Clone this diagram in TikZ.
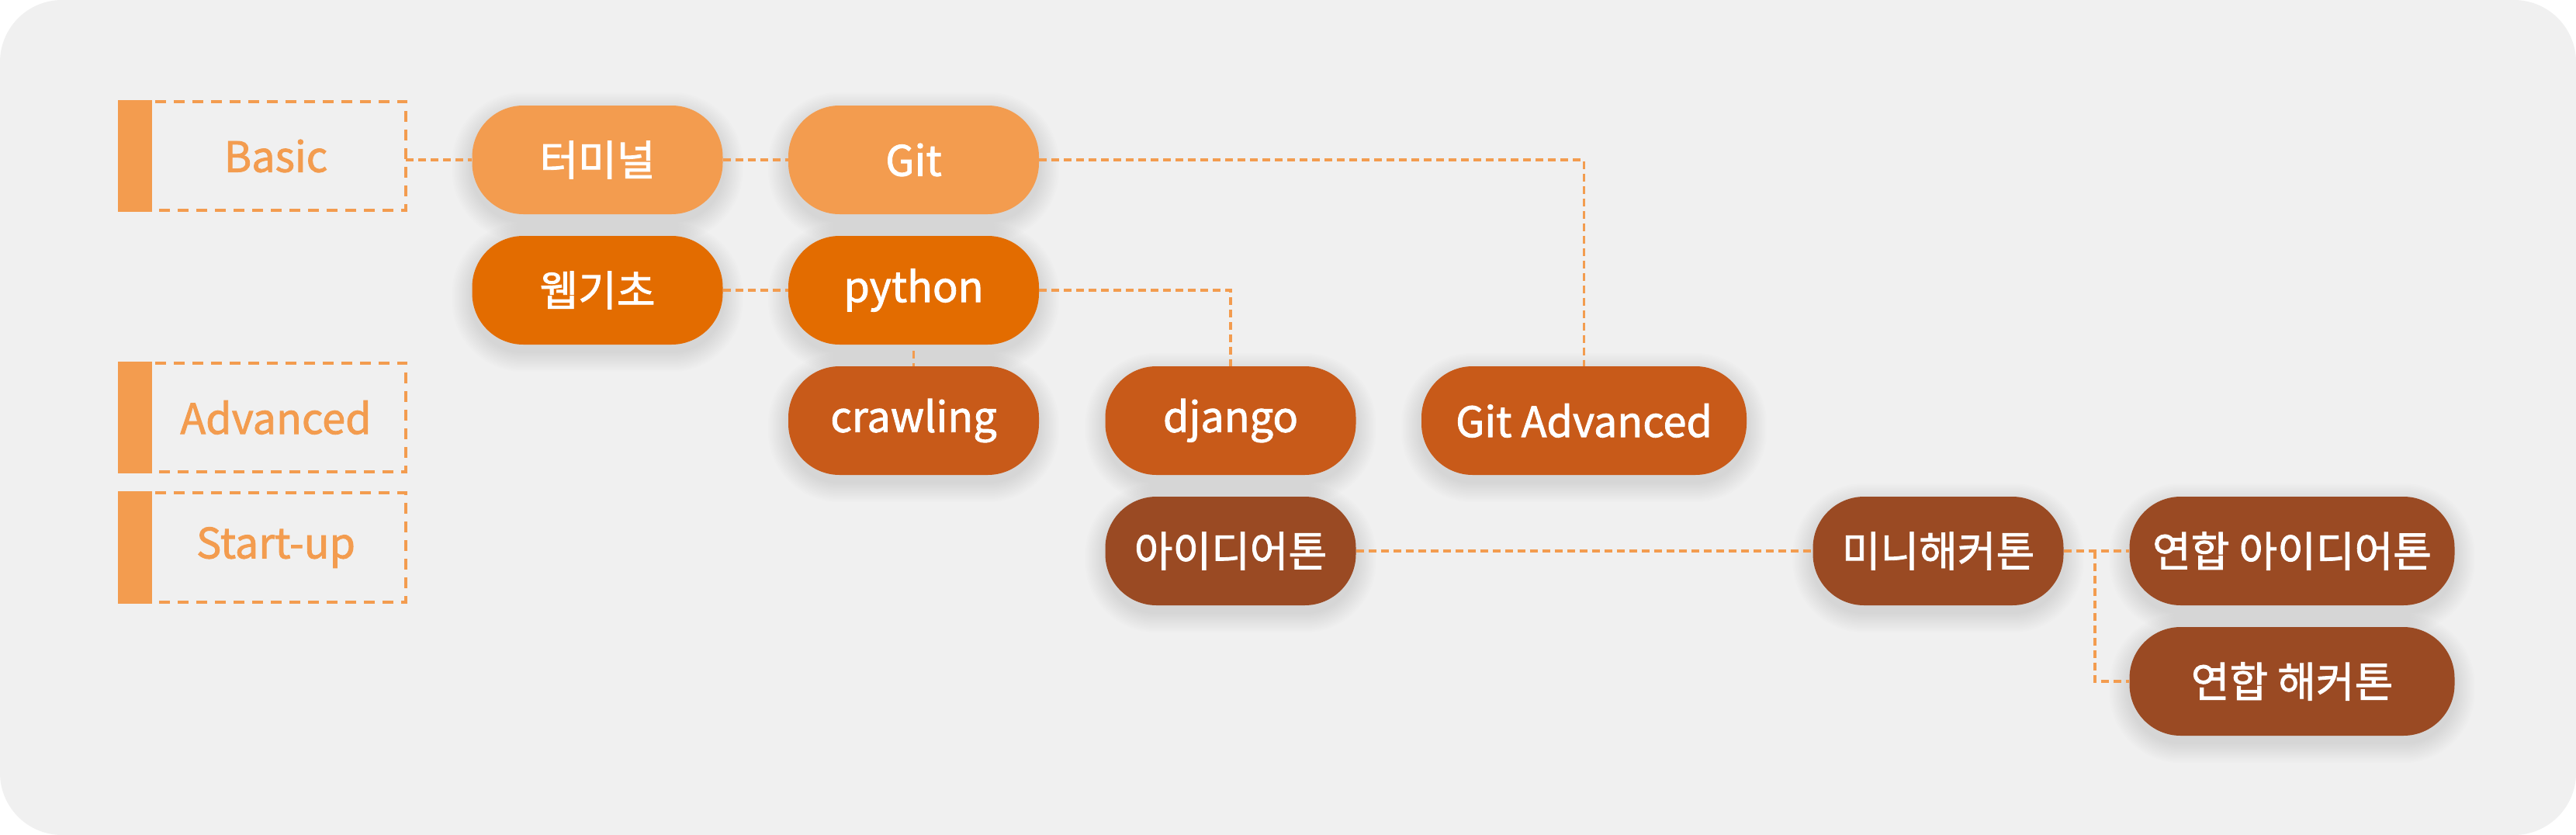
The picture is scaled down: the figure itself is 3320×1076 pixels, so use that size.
\documentclass[tikz,border=0pt]{standalone}
\usepackage{fontspec}
\setmainfont{Noto Sans CJK KR}[FakeBold=1.6]
\definecolor{bgc}{HTML}{F0F0F0}
\definecolor{c1}{HTML}{F39C4F}
\definecolor{c2}{HTML}{E36C00}
\definecolor{c3}{HTML}{C85A19}
\definecolor{c4}{HTML}{9A4A23}
\pgfdeclarelayer{bglayer}
\pgfdeclarelayer{shadowlayer}
\pgfsetlayers{bglayer,shadowlayer,main}
\begin{document}
\begin{tikzpicture}[x=1pt,y=-1pt,
  pill/.style={rectangle, rounded corners=66pt, minimum width=323pt, minimum height=140pt,
    inner sep=0pt, text=white, font=\fontsize{54}{60}\selectfont},
  wide/.style={minimum width=419pt},
  legendbox/.style={rectangle, minimum width=327pt, minimum height=140pt, inner sep=0pt, text=c1,
    font=\fontsize{54}{60}\selectfont},
  legendline/.style={draw=c1, line width=4pt, dash pattern=on 14pt off 10pt},
  conn/.style={draw=c1, line width=3.5pt, dash pattern=on 10pt off 6pt}]
\useasboundingbox (0,0) rectangle (3320,1076);
\begin{pgfonlayer}{bglayer}
\fill[white] (0,0) rectangle (3320,1076);
\fill[bgc, rounded corners=80pt] (0,0) rectangle (3320,1076);
\end{pgfonlayer}

% legend
\node[legendbox] (basic) at (359.5,201) {\hspace*{-8pt}Basic};
\node[legendbox] (adv) at (359.5,538) {\hspace*{-8pt}Advanced};
\node[legendbox] (start) at (359.5,705.5) {\hspace*{-8pt}Start-up};
\foreach \n in {basic,adv,start}{
  \draw[legendline] ([xshift=4pt]\n.north west) -- (\n.north east) -- (\n.south east) -- ([xshift=4pt]\n.south west);
  \fill[c1] ([xshift=-44pt,yshift=2pt]\n.north west) rectangle ([yshift=-2pt]\n.south west);
}

% pills
\node[pill, fill=c1] (term) at (770,206) {터미널};
\node[pill, fill=c1] (git) at (1177.5,206) {Git};
\node[pill, fill=c2] (web) at (770,374) {웹기초};
\node[pill, fill=c2] (python) at (1177.5,374) {python};
\node[pill, fill=c3] (crawl) at (1177.5,542) {crawling};
\node[pill, fill=c3] (django) at (1586,542) {django};
\node[pill, wide, fill=c3] (gitadv) at (2041.5,542) {Git Advanced};
\node[pill, fill=c4] (idea) at (1586,710) {아이디어톤};
\node[pill, fill=c4] (mini) at (2498,710) {미니해커톤};
\node[pill, wide, fill=c4] (yi) at (2954,710) {연합 아이디어톤};
\node[pill, wide, fill=c4] (yh) at (2954,878) {연합 해커톤};

% soft shadows
\begin{pgfonlayer}{shadowlayer}
\foreach \n in {term,git,web,python,crawl,django,gitadv,idea,mini,yi,yh}{
  \foreach \s in {2,4,...,26}{
    \fill[black, opacity=0.0075, rounded corners=66pt+\s pt]
      ([xshift=-\s pt, yshift=\s pt - 9pt]\n.north west) rectangle ([xshift=\s pt, yshift=-\s pt - 9pt]\n.south east);
  }
}
\end{pgfonlayer}

% connectors
\draw[conn] (basic.east |- term.west) -- (term.west);
\draw[conn] (term.east) -- (git.west);
\draw[conn] (git.east) -| (gitadv.north);
\draw[conn] (web.east) -- (python.west);
\draw[conn] (python.east) -| (django.north);
\draw[conn] ([yshift=-8pt]python.south) -- (crawl.north);
\draw[conn] (idea.east) -- (mini.west);
\draw[conn] (mini.east) -- (yi.west);
\coordinate (br) at (2700,710);
\draw[conn] (br) |- (yh.west);
\end{tikzpicture}
\end{document}
